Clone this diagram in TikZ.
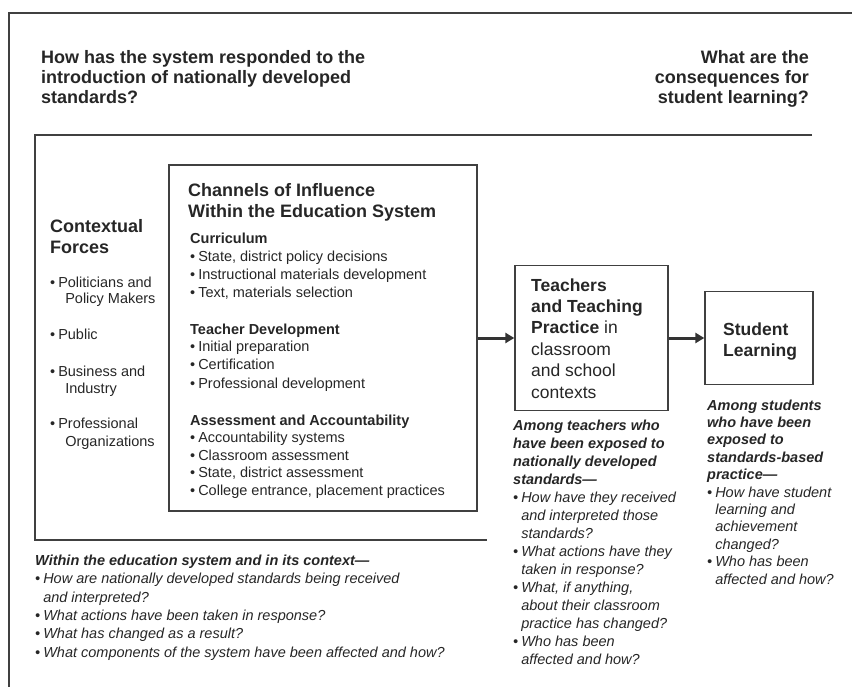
\documentclass[tikz,border=0pt]{standalone}
\usepackage{fontspec}
\setmainfont{Liberation Sans}
\usetikzlibrary{arrows.meta}
\tikzset{
	frame/.style={draw=black!75, line width=1.2pt},
	box/.style={draw=black!75, line width=1.3pt, inner sep=0pt},
	flow/.style={draw=black!80, line width=3pt, -{Triangle[length=9pt,width=10pt]}},
	txt/.style={anchor=base west, align=left, inner sep=0pt, text=black!85, font=\fontsize{14.5}{18}\selectfont},
	ques/.style={txt, font=\fontsize{14.5}{18}\selectfont\itshape},
	head/.style={anchor=base west, align=left, inner sep=0pt, text=black!85, font=\fontsize{18}{20}\selectfont\bfseries},
	big/.style={anchor=base west, align=left, inner sep=0pt, text=black!85, font=\fontsize{17.5}{21.4}\selectfont},
}
\newcommand\bu{\textbullet\hspace{3pt}}
\newcommand\ind{\phantom{\bu}}

\begin{document}
\begin{tikzpicture}[x=1pt, y=-1pt]
			%%%%% START %%%%%
			% a multi-line node sits on the base line of its last line
			\useasboundingbox (0, 0) rectangle (852, 687);
			
			\draw[frame] (852, 13) -- (9, 13) -- (9, 687);
			\draw[frame] (812, 135) -- (35, 135) -- (35, 540) -- (487, 540);
			
			\node[head] (askleft) at (41, 104) {How has the system responded to the\\introduction of nationally developed\\standards?};
			\node[head, anchor=base east, align=right] (askright) at (809, 104) {What are the\\consequences for\\student learning?};
			
			\node[head, font=\fontsize{18}{21}\selectfont\bfseries] (forces) at (50, 254) {Contextual\\Forces};
			\node[txt, font=\fontsize{14.5}{17}\selectfont] (politicians) at (50, 304) {\bu Politicians and\\\ind\hspace*{7pt}Policy Makers};
			\node[txt] (public) at (50, 339) {\bu Public};
			\node[txt, font=\fontsize{14.5}{17}\selectfont] (business) at (50, 393) {\bu Business and\\\ind\hspace*{7pt}Industry};
			\node[txt] (professional) at (50, 446) {\bu Professional\\\ind\hspace*{7pt}Organizations};
			
			\node[box, minimum width=308, minimum height=346] (channels) at (323, 338) {};
			\node[head, font=\fontsize{18}{21}\selectfont\bfseries] (channelshead) at (188, 218) {Channels of Influence\\Within the Education System};
			\node[txt, font=\fontsize{14.5}{18.3}\selectfont] (curriculum) at (190, 298) {\textbf{Curriculum}\\\bu State, district policy decisions\\\bu Instructional materials development\\\bu Text, materials selection};
			\node[txt] (development) at (190, 388) {\textbf{Teacher Development}\\\bu Initial preparation\\\bu Certification\\\bu Professional development};
			\node[txt, font=\fontsize{14.5}{17.5}\selectfont] (assessment) at (190, 495) {\textbf{Assessment and Accountability}\\\bu Accountability systems\\\bu Classroom assessment\\\bu State, district assessment\\\bu College entrance, placement practices};
			
			\node[box, minimum width=153, minimum height=145] (teachers) at (591.5, 338) {};
			\node[big] (teacherstext) at (531, 398) {\textbf{Teachers}\\\textbf{and Teaching}\\\textbf{Practice} in\\classroom\\and school\\contexts};
			
			\node[box, minimum width=108, minimum height=93] (student) at (759, 338) {};
			\node[big, font=\fontsize{17.5}{21}\selectfont\bfseries] (studenttext) at (723, 356) {Student\\Learning};
			
			\draw[flow] (channels.east) -- (teachers.west);
			\draw[flow] (teachers.east) -- (student.west);
			
			\node[ques] (teachersask) at (513, 664) {\textbf{Among teachers who}\\\textbf{have been exposed to}\\\textbf{nationally developed}\\\textbf{standards—}\\\bu How have they received\\\ind and interpreted those\\\ind standards?\\\bu What actions have they\\\ind taken in response?\\\bu What, if anything,\\\ind about their classroom\\\ind practice has changed?\\\bu Who has been\\\ind affected and how?};
			
			\node[ques, font=\fontsize{14.5}{17.4}\selectfont\itshape] (studentask) at (707, 584) {\textbf{Among students}\\\textbf{who have been}\\\textbf{exposed to}\\\textbf{standards-based}\\\textbf{practice—}\\\bu How have student\\\ind learning and\\\ind achievement\\\ind changed?\\\bu Who has been\\\ind affected and how?};
			
			\node[ques, font=\fontsize{14.5}{18.3}\selectfont\itshape] (systemask) at (35, 657) {\textbf{Within the education system and in its context—}\\\bu How are nationally developed standards being received\\\ind and interpreted?\\\bu What actions have been taken in response?\\\bu What has changed as a result?\\\bu What components of the system have been affected and how?};
			
			%%%%% END %%%%%
\end{tikzpicture}
\end{document}
